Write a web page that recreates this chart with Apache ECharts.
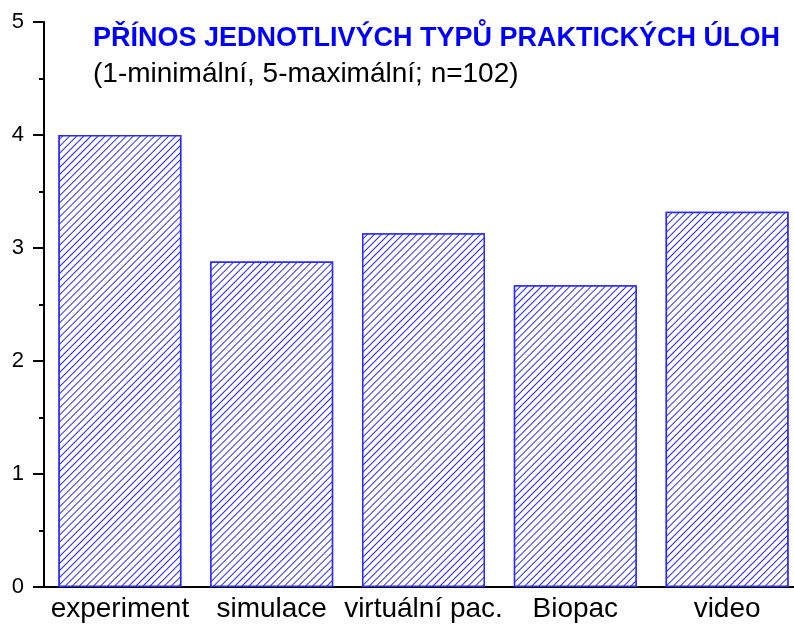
<!DOCTYPE html>
<html>
<head>
<meta charset="utf-8">
<script src="https://cdn.jsdelivr.net/npm/echarts@6/dist/echarts.min.js"></script>
<style>
html, body { margin: 0; padding: 0; background: #fff; }
#main { width: 794px; height: 625px; }
</style>
</head>
<body>
<div id="main"></div>
<script>
var categories = ['experiment', 'simulace', 'virtuální pac.', 'Biopac', 'video'];
var values = [4.0, 2.88, 3.13, 2.67, 3.32];
var titleText = 'PŘÍNOS JEDNOTLIVÝCH TYPŮ PRAKTICKÝCH ÚLOH';
var subText = '(1-minimální, 5-maximální; n=102)';

var myChart = echarts.init(document.getElementById('main'));

var option = {
    backgroundColor: '#fff',
    animation: false,
    title: {
        text: titleText,
        subtext: subText,
        left: 88,
        top: 20,
        itemGap: 8,
        textStyle: {
            fontFamily: 'Liberation Sans',
            fontSize: 27,
            fontWeight: 'bold',
            color: '#0000ff'
        },
        subtextStyle: {
            fontFamily: 'Liberation Sans',
            fontSize: 28,
            color: '#000'
        }
    },
    grid: {
        left: 44,
        width: 759,
        top: 22,
        bottom: 38,
        outerBoundsMode: 'none'
    },
    xAxis: {
        type: 'category',
        data: categories,
        axisLine: { lineStyle: { color: '#000', width: 2 } },
        axisTick: { show: false },
        axisLabel: {
            fontFamily: 'Liberation Sans',
            fontSize: 28,
            color: '#000',
            margin: 8,
            interval: 0
        }
    },
    yAxis: {
        type: 'value',
        min: 0,
        max: 5,
        interval: 1,
        splitLine: { show: false },
        axisLine: { show: true, lineStyle: { color: '#000', width: 2 } },
        axisTick: { show: true, length: 11, lineStyle: { color: '#000', width: 2 } },
        minorTick: { show: true, splitNumber: 2, length: 5, lineStyle: { color: '#000', width: 2 } },
        axisLabel: {
            fontFamily: 'Liberation Sans',
            fontSize: 22,
            color: '#000',
            margin: 20
        }
    },
    series: [{
        type: 'bar',
        data: values,
        barCategoryGap: '19%',
        itemStyle: {
            color: '#fff',
            borderColor: '#2a2aff',
            borderWidth: 1.5,
            decal: {
                symbol: 'rect',
                symbolSize: 1,
                color: '#2a2aff',
                backgroundColor: '#fff',
                dashArrayX: [1, 0],
                dashArrayY: [1, 3.5],
                rotation: -Math.PI / 4
            }
        }
    }]
};

myChart.setOption(option);
</script>
</body>
</html>
